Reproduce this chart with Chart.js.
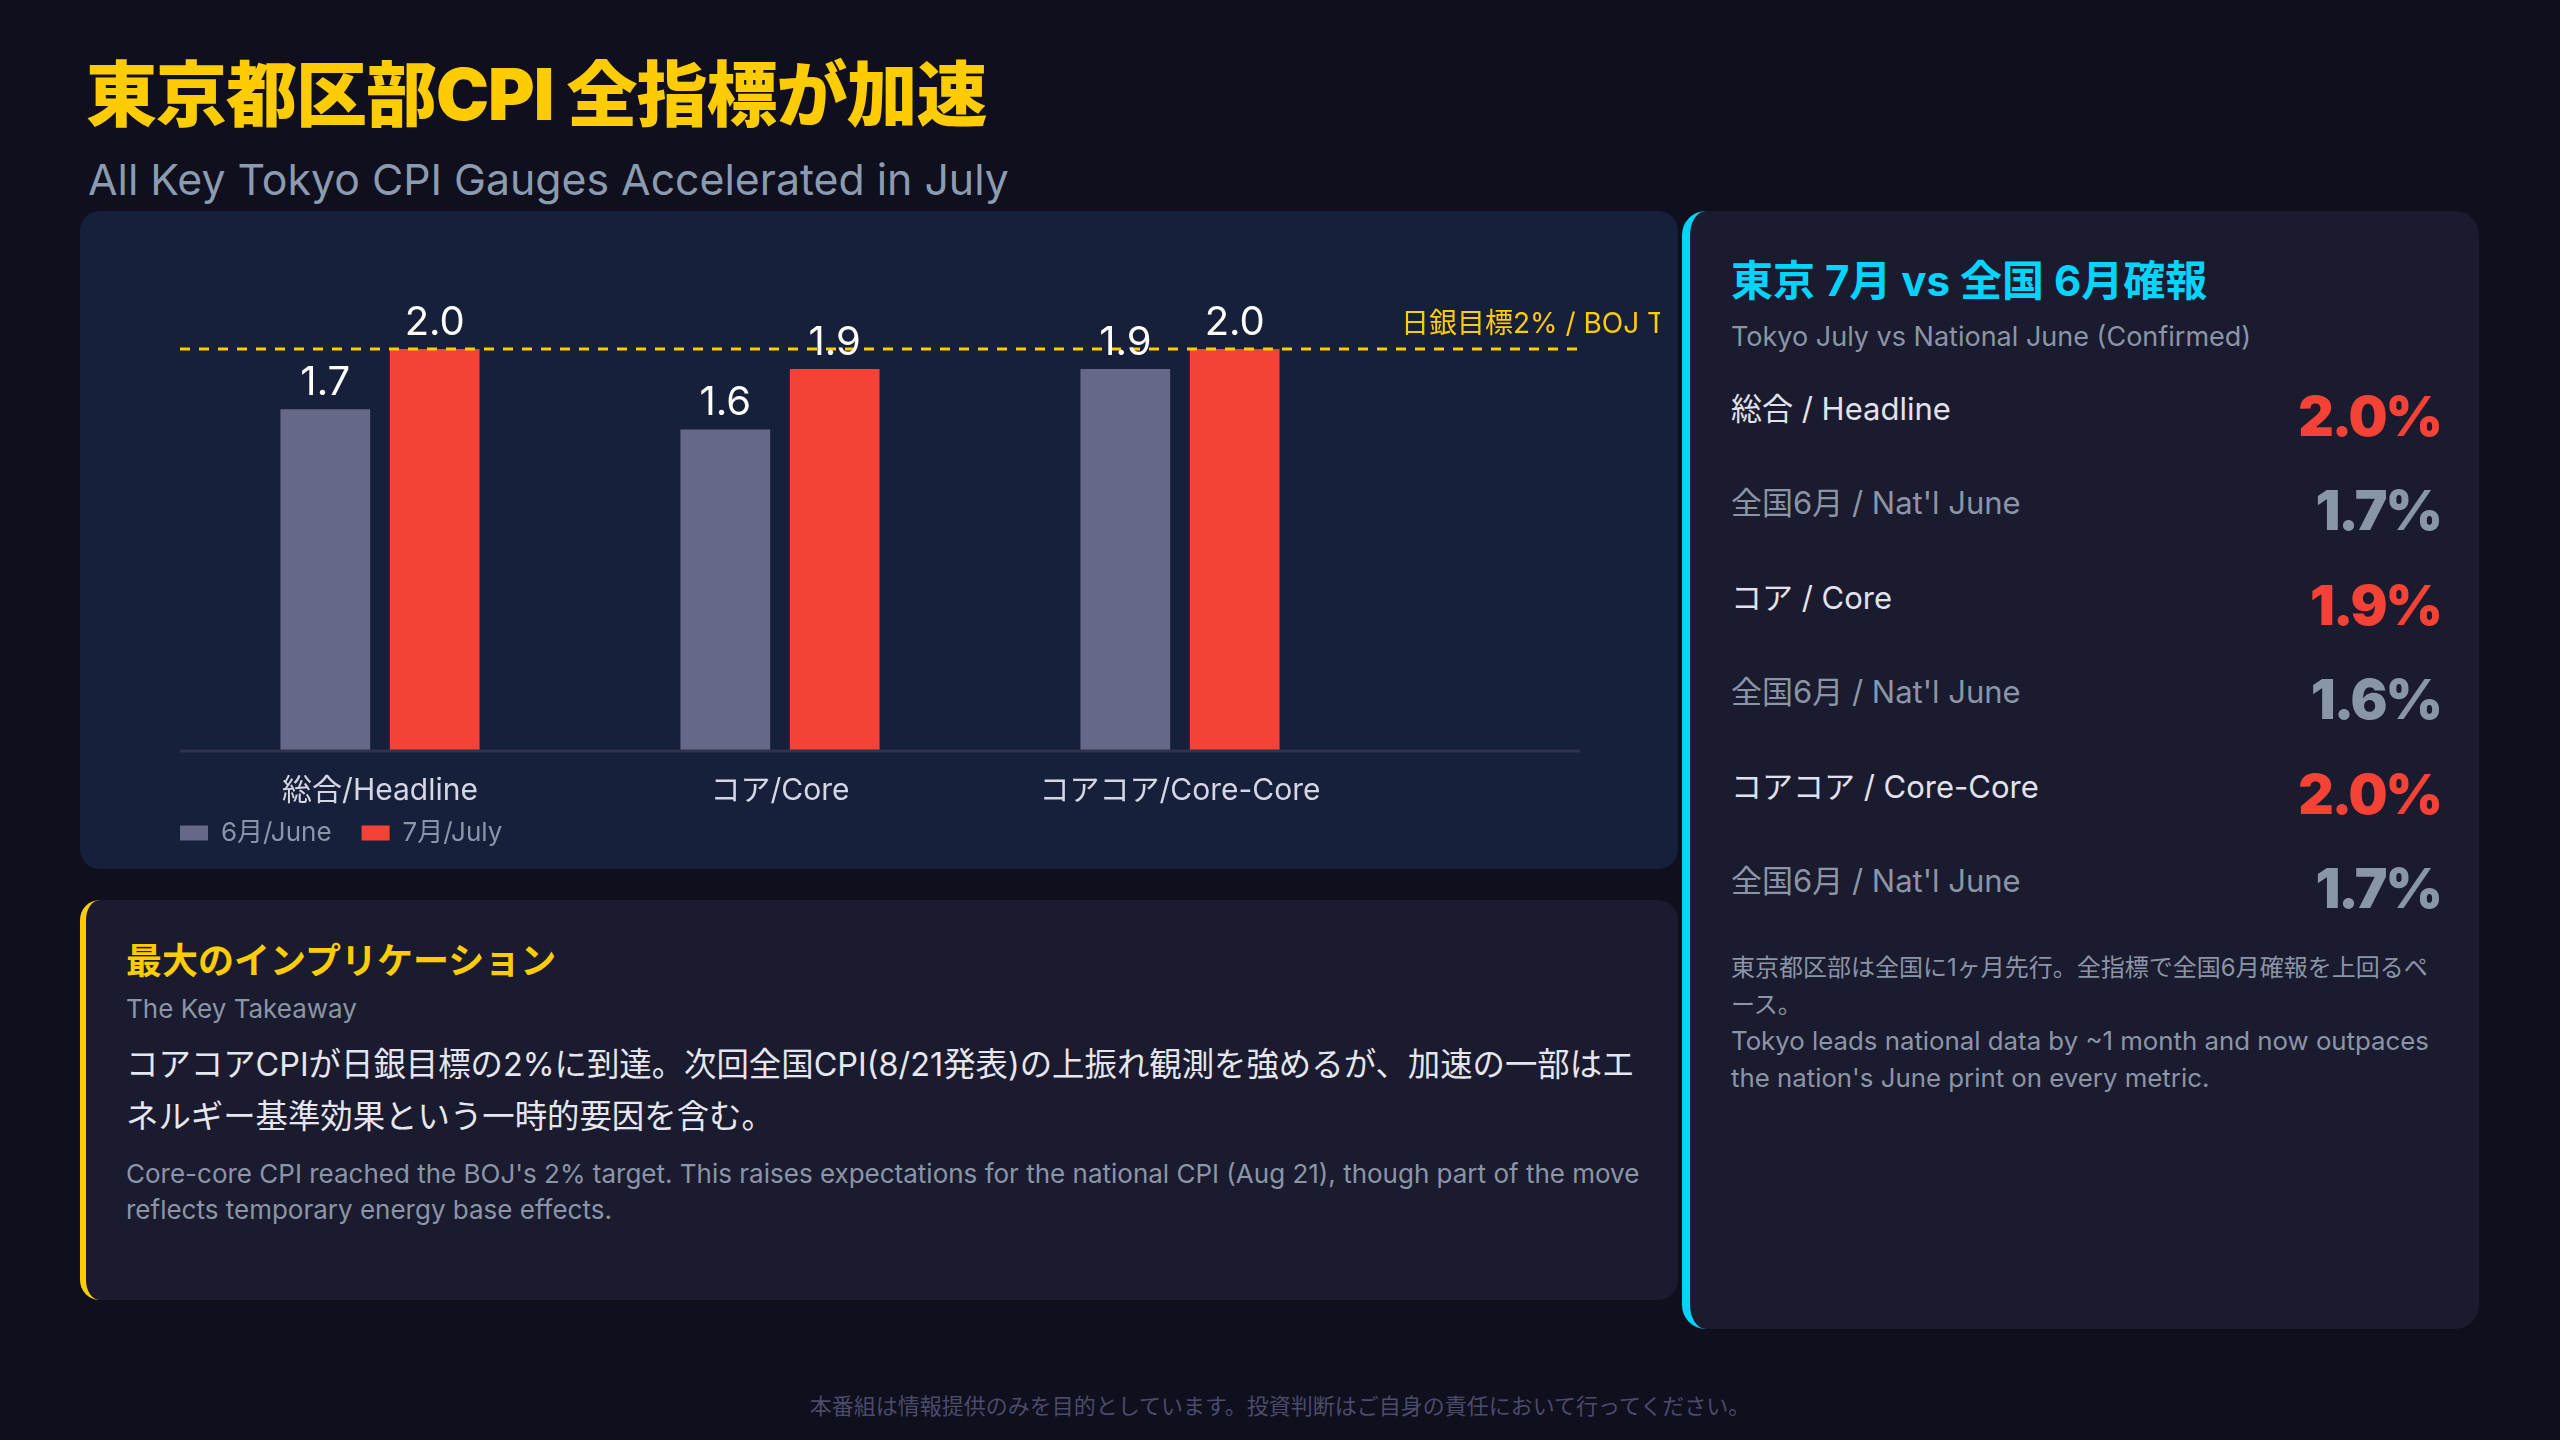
<!DOCTYPE html>
<html lang="ja">
<head>
<meta charset="utf-8">
<script src="https://cdn.jsdelivr.net/npm/chart.js@4"></script>
<style>
  html, body { margin: 0; padding: 0; }
  body {
    width: 2560px; height: 1440px; position: relative; overflow: hidden;
    background: #0f0f1d;
    font-family: "Inter", "Noto Sans CJK JP", sans-serif;
  }
  .title {
    position: absolute; left: 86px; top: 52px;
    font-size: 71px; font-weight: 900; color: #ffcc00; line-height: 1.2; letter-spacing: -1px;
  }
  .subtitle {
    position: absolute; left: 88px; top: 154px;
    font-size: 42.8px; font-weight: 400; color: #8b9bb0; line-height: 1.2;
  }
  .chart-card {
    position: absolute; left: 80px; top: 211px; width: 1598px; height: 658px;
    background: #16203a; border-radius: 20px; overflow: hidden;
  }
  .chart-card canvas { position: absolute; left: 20px; top: 0; }
  .take-card {
    position: absolute; left: 80px; top: 900px; width: 1592px; height: 400px;
    background: #1a1b2e; border-radius: 20px; border-left: 6px solid #ffcc00;
  }
  .take-card .h { position: absolute; left: 40px; top: 36px; font-size: 36px; font-weight: 700; color: #ffcc00; line-height: 1.4; }
  .take-card .hs { position: absolute; left: 40px; top: 93px; font-size: 26px; color: #8b95a7; line-height: 1.2; }
  .take-card .jp { position: absolute; left: 40px; top: 139px; width: 1520px; font-size: 32.4px; color: #e6e6f0; line-height: 52px; }
  .take-card .en { position: absolute; left: 40px; top: 256px; width: 1530px; font-size: 26px; color: #8b95a7; line-height: 36px; }
  .side-card {
    position: absolute; left: 1682px; top: 211px; width: 789px; height: 1118px;
    background: #1a1b2e; border-radius: 24px; border-left: 8px solid #00d4ff;
  }
  .side-card .h { position: absolute; left: 41px; top: 44px; font-size: 42px; font-weight: 700; color: #00d4ff; line-height: 1.25; }
  .side-card .hs { position: absolute; left: 41px; top: 108px; font-size: 27px; color: #8b95a7; line-height: 1.3; }
  .rows { position: absolute; left: 41px; top: 150px; width: 710px; }
  .row { height: 94.5px; display: flex; align-items: center; justify-content: space-between; }
  .row .lab { font-size: 31px; line-height: 1; }
  .row .val { font-family: "Inter", "Roboto", sans-serif; font-weight: 900; font-size: 55px; line-height: 1; transform: translateY(8px); letter-spacing: -2px; }
  .row.tk .lab { color: #e2e2ee; }
  .row.tk .val { color: #f44336; }
  .row.nt .lab { color: #8b95a7; }
  .row.nt .val { color: #8996a8; }
  .side-card .note { position: absolute; left: 41px; top: 739px; width: 714px; color: #8b95a7; }
  .side-card .note .nj { display: block; font-size: 24px; line-height: 36.7px; }
  .side-card .note .ne { display: block; font-size: 25.8px; line-height: 36.7px; }
  .footer {
    position: absolute; left: 0; width: 2560px; top: 1392px; text-align: center;
    font-size: 22px; color: #4b4b6b; line-height: 1.3;
  }
</style>
</head>
<body>
<div class="title">東京都区部CPI 全指標が加速</div>
<div class="subtitle">All Key Tokyo CPI Gauges Accelerated in July</div>

<div class="chart-card"><canvas id="c" width="1560" height="658" style="width:1560px;height:658px"></canvas></div>

<div class="take-card">
  <div class="h">最大のインプリケーション</div>
  <div class="hs">The Key Takeaway</div>
  <div class="jp">コアコアCPIが日銀目標の2%に到達。次回全国CPI(8/21発表)の上振れ観測を強めるが、加速の一部はエネルギー基準効果という一時的要因を含む。</div>
  <div class="en">Core-core CPI reached the BOJ's 2% target. This raises expectations for the national CPI (Aug 21), though part of the move reflects temporary energy base effects.</div>
</div>

<div class="side-card">
  <div class="h">東京 7月 vs 全国 6月確報</div>
  <div class="hs">Tokyo July vs National June (Confirmed)</div>
  <div class="rows" id="rows"></div>
  <div class="note"><span class="nj">東京都区部は全国に1ヶ月先行。全指標で全国6月確報を上回るペース。</span><span class="ne">Tokyo leads national data by ~1 month and now outpaces the nation's June print on every metric.</span></div>
</div>

<div class="footer">本番組は情報提供のみを目的としています。投資判断はご自身の責任において行ってください。</div>

<script>
// ---- data ----
const categories = ['総合/Headline', 'コア/Core', 'コアコア/Core-Core'];
const juneTokyo = [1.7, 1.6, 1.9];
const julyTokyo = [2.0, 1.9, 2.0];
const seriesNames = ['6月/June', '7月/July'];
const bojTarget = 2.0;
const bojLabel = '日銀目標2% / BOJ Target';
const yTicksRange = [0, 2.5];

const tableLabels = ['総合 / Headline', 'コア / Core', 'コアコア / Core-Core'];
const nationalLabel = "全国6月 / Nat'l June";
const tokyoJulyTable = [2.0, 1.9, 2.0];
const nationalJune = [1.7, 1.6, 1.7];

// ---- side table ----
const rowsEl = document.getElementById('rows');
tableLabels.forEach((lab, i) => {
  rowsEl.insertAdjacentHTML('beforeend',
    `<div class="row tk"><span class="lab">${lab}</span><span class="val">${tokyoJulyTable[i].toFixed(1)}%</span></div>` +
    `<div class="row nt"><span class="lab">${nationalLabel}</span><span class="val">${nationalJune[i].toFixed(1)}%</span></div>`);
});

// ---- chart ----
const FONT = '"Inter", "Noto Sans CJK JP", sans-serif';

const overlay = {
  id: 'overlay',
  afterLayout(chart) {
    // pull the legend up closer to the category labels
    const L = chart.legend;
    if (L) { L.top -= 40; L.bottom -= 40; }
  },
  afterDatasetsDraw(chart) {
    const {ctx, chartArea, scales} = chart;
    const xs = scales.x, ys = scales.y;
    const half = (xs.getPixelForValue(1) - xs.getPixelForValue(0)) / 2;
    const xEnd = chartArea.right + half;
    ctx.save();
    // baseline
    const y0 = ys.getPixelForValue(0);
    ctx.strokeStyle = '#30334f';
    ctx.lineWidth = 3;
    ctx.beginPath(); ctx.moveTo(chartArea.left, y0); ctx.lineTo(xEnd, y0); ctx.stroke();
    // target line
    const yt = ys.getPixelForValue(bojTarget);
    ctx.strokeStyle = '#ffcc00';
    ctx.lineWidth = 3;
    ctx.setLineDash([10, 9]);
    ctx.beginPath(); ctx.moveTo(chartArea.left, yt); ctx.lineTo(xEnd, yt); ctx.stroke();
    ctx.setLineDash([]);
    ctx.fillStyle = '#ffcc00';
    ctx.font = '28px ' + FONT;
    ctx.textAlign = 'left';
    ctx.textBaseline = 'middle';
    ctx.fillText(bojLabel, chartArea.right + 21, yt - 24);
    // value labels
    ctx.fillStyle = '#ffffff';
    ctx.font = '40px ' + FONT;
    ctx.textAlign = 'center';
    ctx.textBaseline = 'bottom';
    chart.data.datasets.forEach((ds, di) => {
      chart.getDatasetMeta(di).data.forEach((bar, i) => {
        ctx.fillText(ds.data[i].toFixed(1), bar.x, bar.y - 6);
      });
    });
    ctx.restore();
  }
};

new Chart(document.getElementById('c'), {
  type: 'bar',
  data: {
    labels: categories,
    datasets: [
      { label: seriesNames[0], data: juneTokyo, backgroundColor: '#666887' },
      { label: seriesNames[1], data: julyTokyo, backgroundColor: '#f44336' }
    ]
  },
  options: {
    responsive: false,
    animation: false,
    devicePixelRatio: 1,
    categoryPercentage: 0.547,
    barPercentage: 0.82,
    layout: { padding: { left: 50, right: 280, top: 37.5, bottom: -27 } },
    plugins: {
      tooltip: { enabled: false },
      legend: {
        position: 'bottom',
        align: 'start',
        labels: {
          boxWidth: 28, boxHeight: 15, padding: 30,
          color: '#8b95a7',
          font: { size: 26, family: FONT }
        }
      }
    },
    scales: {
      x: {
        grid: { display: false, drawTicks: false },
        border: { display: false },
        ticks: { color: '#d6d6e4', padding: 21.5, font: { size: 30, family: FONT } }
      },
      y: {
        min: yTicksRange[0], max: yTicksRange[1],
        grid: { display: false, drawTicks: false },
        border: { display: false },
        ticks: { display: false },
        afterFit(s) { s.width = 30; }
      }
    }
  },
  plugins: [overlay]
});
</script>
</body>
</html>
